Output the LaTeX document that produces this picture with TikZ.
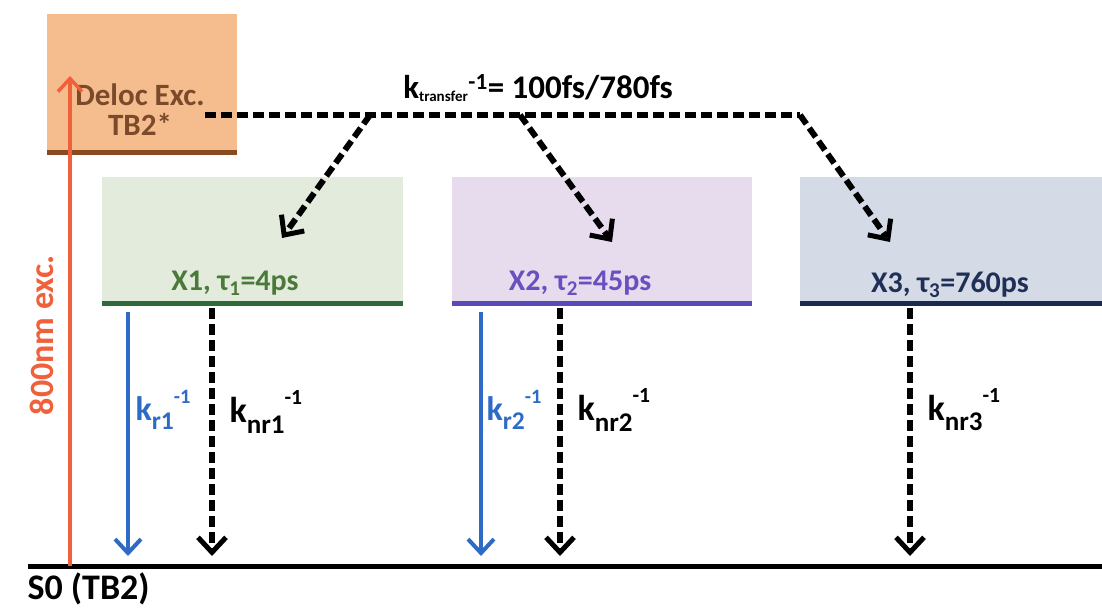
\documentclass[tikz,border=0pt]{standalone}
\usepackage{fontspec}
\setmainfont{Carlito}
\usetikzlibrary{arrows.meta}
\definecolor{orfill}{HTML}{F5BC8E}
\definecolor{orline}{HTML}{8A4A20}
\definecolor{ortext}{HTML}{7A4A2A}
\definecolor{redexc}{HTML}{F0603A}
\definecolor{gfill}{HTML}{E3EBDD}
\definecolor{gline}{HTML}{2F6A3A}
\definecolor{gtext}{HTML}{4A7A3A}
\definecolor{pfill}{HTML}{E6DCEE}
\definecolor{pline}{HTML}{5A4AB8}
\definecolor{ptext}{HTML}{6A4FC0}
\definecolor{bfill}{HTML}{D4DAE6}
\definecolor{bline}{HTML}{1A2A50}
\definecolor{btext}{HTML}{1F2F55}
\definecolor{rblue}{HTML}{2E6BC6}
\newcommand{\rk}[2]{k\raisebox{-0.28em}{\scalebox{0.75}{#1}}\raisebox{0.5em}{\scalebox{0.6}{#2}}}
\tikzset{
  x=1pt, y=-1pt,
  statebox/.style={draw=none, anchor=north west, inner sep=0pt, minimum height=126pt},
  levelline/.style={line width=5pt},
  dasharrow/.style={line width=6pt, dash pattern=on 11pt off 5pt, -{Straight Barb[length=15pt,width=28pt,line width=5pt]}},
  dashline/.style={line width=6pt, dash pattern=on 11pt off 5pt},
  radarrow/.style={line width=4pt, rblue, -{Straight Barb[length=14pt,width=26pt,line width=4pt]}},
  lbl/.style={font=\bfseries\fontsize{30}{32}\selectfont},
  rate/.style={font=\bfseries\fontsize{36}{38}\selectfont, anchor=west},
}
\begin{document}
\begin{tikzpicture}
\useasboundingbox (0,0) rectangle (1102,610);
% boxes
\node[statebox, fill=orfill, minimum width=190pt, minimum height=138pt] (deloc) at (47,14) {};
\draw[line width=5pt, orline] (deloc.south west) -- (deloc.south east);
\node[ortext, align=center, font=\bfseries\fontsize{31}{30}\selectfont] (deloctxt) at (140,110) {Deloc Exc.\\TB2*};
\node[statebox, fill=gfill, minimum width=301pt] (x1) at (102,177) {};
\node[statebox, fill=pfill, minimum width=300pt] (x2) at (452,177) {};
\node[statebox, fill=bfill, minimum width=302pt] (x3) at (800,177) {};
\draw[levelline, gline] (x1.south west) -- (x1.south east);
\draw[levelline, pline] (x2.south west) -- (x2.south east);
\draw[levelline, bline] (x3.south west) -- (x3.south east);
\node[lbl, gtext] (x1l) at (235,283) {X1, τ\textsubscript{1}=4ps};
\node[lbl, ptext] (x2l) at (580,283) {X2, τ\textsubscript{2}=45ps};
\node[lbl, btext] (x3l) at (950,285) {X3, τ\textsubscript{3}=760ps};
% ground
\coordinate (g0) at (28,566);
\coordinate (g1) at (1102,566);
\draw[levelline] (g0) -- (g1);
\node[font=\bfseries\fontsize{36}{38}\selectfont, anchor=west] (s0) at (24,589) {S0 (TB2)};
% excitation
\coordinate (exb) at (70,566);
\coordinate (ext) at (70,76);
\draw[line width=3.5pt, redexc, -{Straight Barb[length=13pt,width=24pt,line width=3.5pt]}] (exb) -- (ext);
\node[rotate=90, font=\bfseries\fontsize{34}{36}\selectfont, redexc] (exlbl) at (42,335) {800nm exc.};
% transfer
\coordinate (t0) at (205,115);
\coordinate (tb1) at (370,115);
\coordinate (tb2) at (520,115);
\coordinate (t1) at (800,115);
\coordinate (a1) at (282,238);
\coordinate (a2) at (612,242);
\coordinate (a3) at (890,242);
\draw[dashline] (t0) -- (t1);
\draw[dasharrow] (t1) -- (a3);
\draw[dasharrow] (tb1) -- (a1);
\draw[dasharrow] (tb2) -- (a2);
\node[font=\bfseries\fontsize{33}{35}\selectfont] (ktr) at (538,88) {k\textsubscript{\fontsize{15}{15}\selectfont transfer}\textsuperscript{-1}= 100fs/780fs};
% decays
\coordinate (r1s) at (128,312); \coordinate (r1e) at (128,556);
\coordinate (r2s) at (481,312); \coordinate (r2e) at (481,556);
\draw[radarrow] (r1s) -- (r1e);
\draw[radarrow] (r2s) -- (r2e);
\coordinate (n1s) at (212,308); \coordinate (n1e) at (212,556);
\coordinate (n2s) at (560,308); \coordinate (n2e) at (560,556);
\coordinate (n3s) at (910,308); \coordinate (n3e) at (910,556);
\draw[dasharrow] (n1s) -- (n1e);
\draw[dasharrow] (n2s) -- (n2e);
\draw[dasharrow] (n3s) -- (n3e);
\node[rate, rblue, font=\bfseries\fontsize{34}{36}\selectfont] (kr1) at (132,410) {\rk{r1}{-1}};
\node[rate] (knr1) at (226,412) {\rk{nr1}{-1}};
\node[rate, rblue, font=\bfseries\fontsize{34}{36}\selectfont] (kr2) at (483,410) {\rk{r2}{-1}};
\node[rate] (knr2) at (574,410) {\rk{nr2}{-1}};
\node[rate] (knr3) at (924,410) {\rk{nr3}{-1}};
\end{tikzpicture}
\end{document}
